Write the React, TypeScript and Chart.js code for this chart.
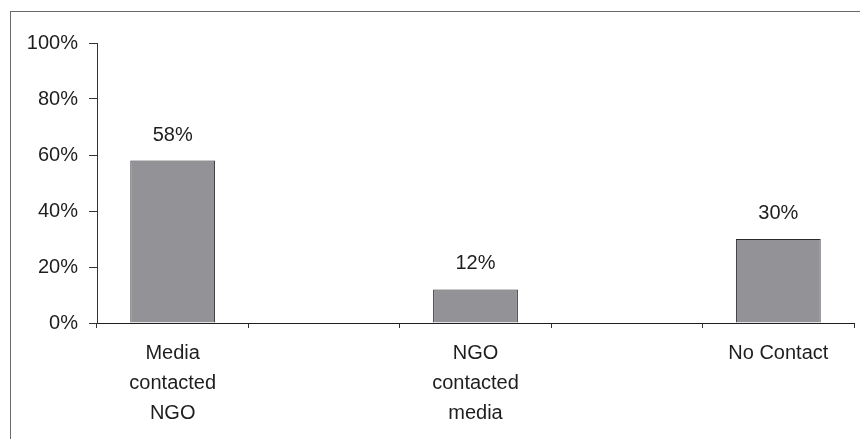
import React, { useEffect, useRef } from "react";
import { Chart, registerables } from "chart.js";

Chart.register(...registerables);

const categories: (string | string[])[] = [
  ["Media", "contacted", "NGO"],
  "",
  ["NGO", "contacted", "media"],
  "",
  "No Contact",
];
const values: (number | null)[] = [58, null, 12, null, 30];
const yMin = 0;
const yMax = 100;
const yStep = 20;

const FONT = "'Liberation Sans', Arial, sans-serif";
const TEXT = "#1e1e1e";
const SIZE = 20;

const valueLabels = {
  id: "valueLabels",
  afterDatasetsDraw(chart: any) {
    const ctx = chart.ctx;
    const meta = chart.getDatasetMeta(0);
    ctx.save();
    ctx.font = `${SIZE}px ${FONT}`;
    ctx.fillStyle = TEXT;
    ctx.textAlign = "center";
    ctx.textBaseline = "alphabetic";
    meta.data.forEach((el: any, i: number) => {
      const v = values[i];
      if (v === null || v === undefined) return;
      ctx.fillText(`${v}%`, el.x, el.y - 20);
    });
    ctx.restore();
  },
};

export default function App() {
  const ref = useRef<HTMLCanvasElement | null>(null);
  useEffect(() => {
    if (!ref.current) return;
    const chart = new Chart(ref.current, {
      type: "bar",
      data: {
        labels: categories,
        datasets: [
          {
            data: values,
            backgroundColor: "#929297",
            borderColor: "#2a2a2a",
            borderWidth: 1,
            barPercentage: 0.56,
            categoryPercentage: 1,
          },
        ],
      },
      options: {
        responsive: false,
        animation: false,
        layout: { padding: { top: 43, right: 6, bottom: 0, left: 0 } },
        plugins: { legend: { display: false }, tooltip: { enabled: false } },
        scales: {
          x: {
            offset: true,
            grid: {
              offset: true,
              drawOnChartArea: false,
              drawTicks: true,
              tickLength: 5,
              color: "#333333",
            },
            border: { display: true, color: "#1e1e1e", width: 1 },
            ticks: {
              color: TEXT,
              font: { family: FONT, size: SIZE, lineHeight: "30px" },
              padding: 10,
              maxRotation: 0,
              autoSkip: false,
            },
            afterFit(scale: any) {
              scale.height = 116;
            },
          },
          y: {
            min: yMin,
            max: yMax,
            ticks: {
              stepSize: yStep,
              color: TEXT,
              font: { family: FONT, size: SIZE },
              padding: 11,
              callback: (v: any) => `${v}%`,
            },
            grid: {
              drawOnChartArea: false,
              drawTicks: true,
              tickLength: 8,
              color: "#333333",
            },
            border: { display: true, color: "#333333", width: 1 },
            afterFit(scale: any) {
              scale.width = 97;
            },
          },
        },
      },
      plugins: [valueLabels],
    });
    return () => chart.destroy();
  }, []);

  return (
    <div style={{ position: "absolute", left: 0, top: 0, width: 860, height: 439, background: "#fff", overflow: "hidden" }}>
      <div
        style={{
          position: "absolute",
          left: 10,
          top: 11,
          width: 900,
          height: 500,
          borderLeft: "1px solid #6a6a6a",
          borderTop: "1px solid #6a6a6a",
        }}
      />
      <canvas ref={ref} width={860} height={439} style={{ position: "absolute", left: 0, top: 0 }} />
    </div>
  );
}
